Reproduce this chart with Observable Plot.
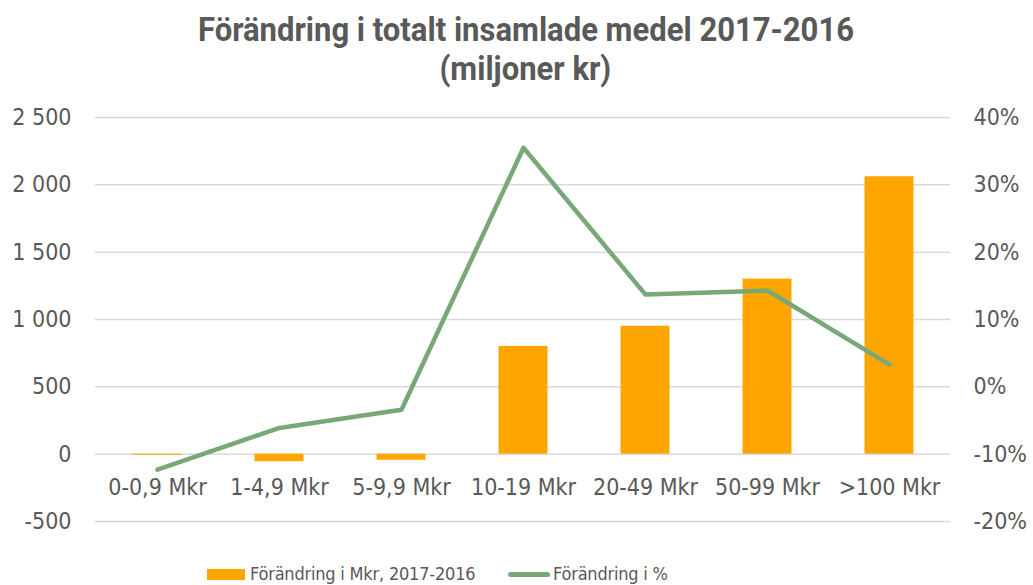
<!DOCTYPE html>
<html>
<head>
<meta charset="utf-8">
<script src="https://cdn.jsdelivr.net/npm/d3@7"></script>
<script src="https://cdn.jsdelivr.net/npm/@observablehq/plot@0.6"></script>
<style>
  html, body { margin: 0; padding: 0; background: #fff; }
  #wrap { width: 1033px; height: 585px; position: relative; overflow: hidden; }
  #title { position: absolute; left: 9px; top: 10px; width: 1033px; text-align: center;
    font-family: "Liberation Sans Narrow", "Roboto", sans-serif; font-weight: bold;
    font-size: 33px; line-height: 39px; color: #595959; }
  #title div { height: 39px; }
  #title span { display: inline-block; transform: scaleX(0.94); transform-origin: center; white-space: nowrap; }
  #chart { position: absolute; left: 0; top: 0; }
  #legend { position: absolute; left: 0; top: 561px; width: 1033px; height: 25px;
    font-family: "DejaVu Sans Condensed", "DejaVu Sans", sans-serif; font-size: 18px; letter-spacing: -0.2px; color: #595959; }
  .sw { position: absolute; }
  .lt { position: absolute; top: 0; white-space: nowrap; line-height: 25px; }
</style>
</head>
<body>
<div id="wrap">
  <div id="chart"></div>
  <div id="title"><div><span>Förändring i totalt insamlade medel 2017-2016</span></div><div><span>(miljoner kr)</span></div></div>
  <div id="legend">
    <div class="sw" style="left:207px; top:8px; width:38px; height:11px; background:#FFA500;"></div>
    <div class="lt" style="left:250px;">Förändring i Mkr, 2017-2016</div>
    <div class="sw" style="left:508px; top:11px; width:42px; height:5px; border-radius:3px; background:#78A878;"></div>
    <div class="lt" style="left:553px;">Förändring i %</div>
  </div>
</div>
<script>
const categories = ["0-0,9 Mkr", "1-4,9 Mkr", "5-9,9 Mkr", "10-19 Mkr", "20-49 Mkr", "50-99 Mkr", ">100 Mkr"];
const changeMkr = [-8, -56, -45, 800, 950, 1300, 2060];
const changePct = [-12.3, -6.1, -3.4, 35.5, 13.7, 14.3, 3.3];
const leftTicks = [-500, 0, 500, 1000, 1500, 2000, 2500];
const rightTickLabels = ["-20%", "-10%", "0%", "10%", "20%", "30%", "40%"];

// right axis maps onto left scale: pct -> 500 + pct*50
const pctToLeft = p => 500 + p * 50;

const data = categories.map((c, i) => ({cat: c, mkr: changeMkr[i], pct: changePct[i], pctL: pctToLeft(changePct[i])}));

const loc = d3.formatLocale({decimal: ",", thousands: " ", grouping: [3], currency: ["", ""], minus: "-"});
const fmt = loc.format(",");

const font = "DejaVu Sans Condensed, DejaVu Sans, sans-serif";

const chart = Plot.plot({
  width: 1033,
  height: 585,
  marginTop: 117,
  marginBottom: 64,
  marginLeft: 95,
  marginRight: 83,
  style: {fontFamily: font, fontSize: "23px", color: "#595959", background: "transparent"},
  x: {domain: categories, padding: 0, axis: null},
  y: {domain: [-500, 2500], axis: null},
  marks: [
    Plot.ruleY(leftTicks, {stroke: "#d9d9d9", strokeWidth: 1.5}),
    Plot.barY(data, {x: "cat", y: "mkr", fill: "#FFA500", insetLeft: 36.5, insetRight: 36.5}),
    Plot.lineY(data, {x: "cat", y: "pctL", stroke: "#78A878", strokeWidth: 4.5, strokeLinejoin: "round", strokeLinecap: "round"}),
    Plot.text(data, {x: "cat", y: () => 0, text: "cat", dy: 33, fill: "#595959", fontSize: 23}),
    Plot.axisY(leftTicks, {anchor: "left", tickSize: 0, tickPadding: 24, tickFormat: fmt, fontSize: 23, fill: "#595959", label: null}),
    Plot.axisY(leftTicks, {anchor: "right", tickSize: 0, tickPadding: 23, tickFormat: (d, i) => rightTickLabels[i], fontSize: 23, fill: "#595959", label: null})
  ]
});
document.getElementById("chart").appendChild(chart);
</script>
</body>
</html>
